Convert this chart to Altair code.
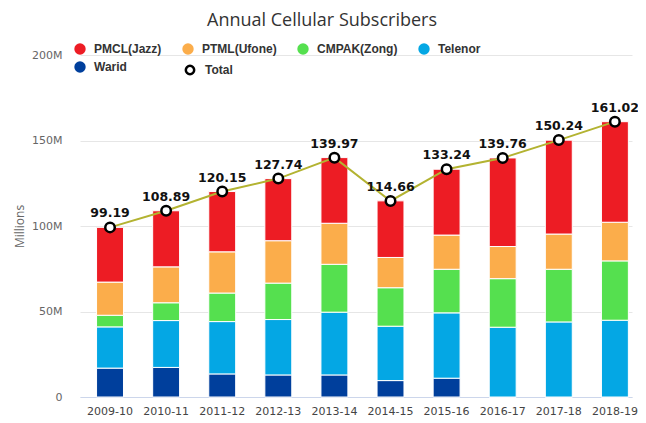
import altair as alt
import pandas as pd

years = ["2009-10", "2010-11", "2011-12", "2012-13", "2013-14",
         "2014-15", "2015-16", "2016-17", "2017-18", "2018-19"]
warid = [16.9, 17.3, 13.5, 12.9, 12.9, 9.6, 11.0, 0, 0, 0]
telenor = [24.1, 27.4, 30.6, 32.4, 36.7, 31.8, 38.2, 40.8, 43.9, 44.9]
cmpak = [6.8, 10.4, 16.7, 21.3, 28.0, 22.5, 25.5, 28.4, 30.8, 34.7]
ptml = [19.4, 21.0, 24.1, 24.8, 24.0, 17.7, 20.0, 18.8, 20.6, 22.6]
pmcl = [32.0, 32.8, 35.25, 36.3, 38.4, 33.1, 38.5, 51.8, 54.9, 58.8]
totals = [99.19, 108.89, 120.15, 127.74, 139.97, 114.66, 133.24, 139.76, 150.24, 161.02]

series_names = ["PMCL(Jazz)", "PTML(Ufone)", "CMPAK(Zong)", "Telenor", "Warid"]
series_colors = ["#ed1c24", "#fbad4b", "#55e04f", "#04a7e4", "#003f9c"]
stack_order = {"Warid": 0, "Telenor": 1, "CMPAK(Zong)": 2, "PTML(Ufone)": 3, "PMCL(Jazz)": 4}

rows = []
for name, vals in [("Warid", warid), ("Telenor", telenor), ("CMPAK(Zong)", cmpak),
                   ("PTML(Ufone)", ptml), ("PMCL(Jazz)", pmcl)]:
    for y, v in zip(years, vals):
        rows.append({"year": y, "series": name, "value": v * 1e6, "ord": stack_order[name]})
bars_df = pd.DataFrame(rows)
tot_df = pd.DataFrame({"year": years, "total": [t * 1e6 for t in totals],
                       "label": [f"{t:.2f}" for t in totals], "k": "Total"})

x_scale = alt.Scale(paddingInner=0.52, paddingOuter=0.18, align=0.82)
x_enc = alt.X("year:N", sort=years, title=None, scale=x_scale,
              axis=alt.Axis(labelAngle=0, labelFont="DejaVu Sans", labelFontSize=11,
                            labelColor="#444", domainColor="#ccd6eb", ticks=False,
                            labelPadding=8))

LEG_FONT = "Liberation Sans"
color_legend = alt.Legend(
    title=None, orient="none", legendX=-6, legendY=-12, direction="horizontal",
    columns=4, columnPadding=20, rowPadding=6, symbolType="circle", symbolSize=130,
    labelFont=LEG_FONT, labelFontSize=12, labelFontWeight="bold", labelColor="#333",
    labelOffset=8, symbolStrokeWidth=0)

total_legend = alt.Legend(
    title=None, orient="none", legendX=104, legendY=9,
    symbolType="circle", symbolSize=70, symbolFillColor="white",
    symbolStrokeColor="black", symbolStrokeWidth=2.5, symbolOpacity=1,
    labelFont=LEG_FONT, labelFontSize=12, labelFontWeight="bold", labelColor="#333",
    labelOffset=9)

bars = alt.Chart(bars_df).mark_bar(stroke="white", strokeWidth=1).encode(
    x=x_enc,
    y=alt.Y("sum(value):Q", title="Millions",
            scale=alt.Scale(domain=[0, 200e6], nice=False),
            axis=alt.Axis(values=[0, 50e6, 100e6, 150e6, 200e6],
                          labelExpr="datum.value == 0 ? '0' : (datum.value/1e6) + 'M'",
                          labelFont="DejaVu Sans", labelFontSize=11, labelColor="#666",
                          titleFont="Open Sans", titleFontSize=12, titleColor="#666",
                          titleFontWeight="normal", titlePadding=5,
                          domain=False, ticks=False, gridColor="#e6e6e6",
                          labelPadding=18)),
    color=alt.Color("series:N", scale=alt.Scale(domain=series_names, range=series_colors),
                    legend=color_legend),
    order=alt.Order("ord:Q", sort="ascending"),
)

line = alt.Chart(tot_df).mark_line(color="#b3b331", strokeWidth=2).encode(
    x=alt.X("year:N", sort=years), y="total:Q")
pts = alt.Chart(tot_df).mark_point(filled=False, fill="white", fillOpacity=1,
                                   strokeWidth=2.5, size=90, opacity=1,
                                   shape="circle").encode(
    x=alt.X("year:N", sort=years), y="total:Q",
    color=alt.Color("k:N", scale=alt.Scale(domain=["Total"], range=["black"]),
                    legend=total_legend))
labels = alt.Chart(tot_df).mark_text(dy=-14, font="DejaVu Sans", fontSize=12.5,
                                     fontWeight="bold", color="#111").encode(
    x=alt.X("year:N", sort=years), y="total:Q", text="label:N")

chart = alt.layer(bars, line, pts, labels).resolve_scale(
    color="independent"
).resolve_legend(color="independent").properties(
    width=552, height=342,
    autosize=alt.AutoSizeParams(type="none"),
    padding={"left": 72, "top": 47, "right": 6, "bottom": 20},
    title=alt.TitleParams("Annual Cellular Subscribers", font="Open Sans", fontSize=18,
                          fontWeight="normal", color="#333", anchor="middle",
                          dx=-34, offset=13),
).configure_view(stroke=None)

chart.save("out.html", embed_options={"renderer": "svg", "actions": False})
